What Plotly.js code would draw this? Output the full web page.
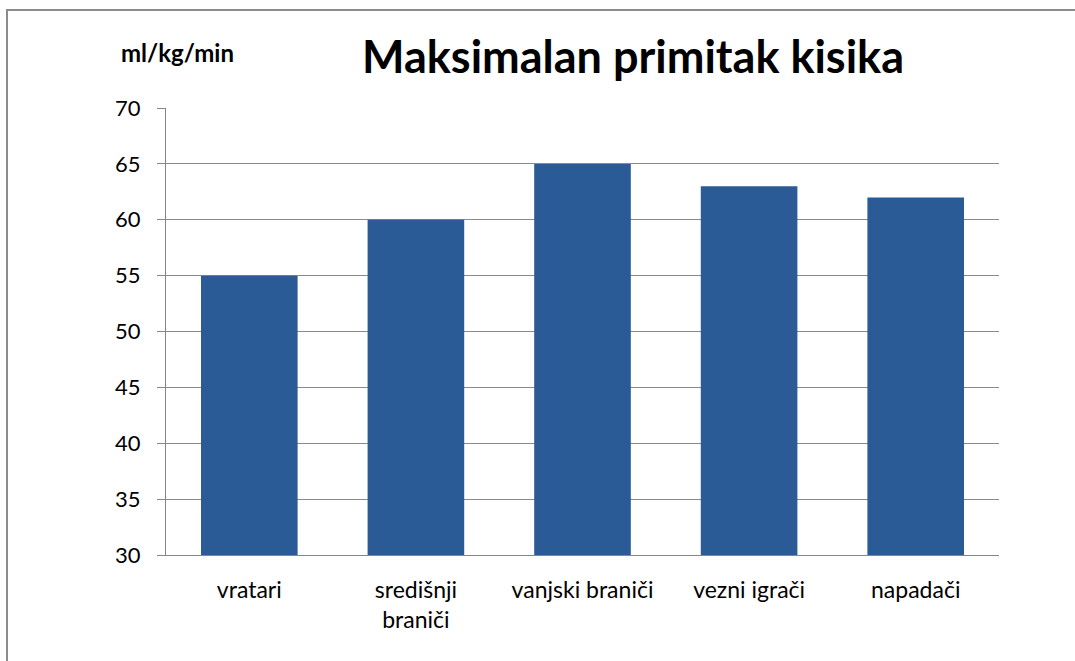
<!DOCTYPE html>
<html>
<head>
<meta charset="utf-8">
<script src="https://cdn.plot.ly/plotly-3.0.1.min.js"></script>
<style>html,body{margin:0;padding:0;background:#fff;}#chart{width:1075px;height:661px;}</style>
</head>
<body>
<div id="chart"></div>
<script>
const categories = ["vratari", "središnji<br>braniči", "vanjski braniči", "vezni igrači", "napadači"];
const values = [55, 60, 65, 63, 62];
const yTicks = [30, 35, 40, 45, 50, 55, 60, 65, 70];
const titleText = "Maksimalan primitak kisika";
const unitText = "ml/kg/min";

const W = 1075, H = 661;
const L = 166, R = 999, T = 108, B = 555;
const px2x = p => (p - L) / (R - L);
const px2y = p => (B - p) / (B - T);

const trace = {
  type: "bar",
  x: categories,
  y: values,
  base: 0,
  marker: { color: "#2b5b96", line: { width: 0 } },
  hoverinfo: "x+y"
};

const layout = {
  width: W, height: H,
  margin: { l: L, r: W - R, t: T, b: H - B, pad: 0 },
  paper_bgcolor: "#ffffff",
  plot_bgcolor: "#ffffff",
  font: { family: "Lato, 'Open Sans', sans-serif", color: "#000", size: 22 },
  bargap: 0.42,
  showlegend: false,
  title: {
    text: "<b>" + titleText + "</b>",
    font: { size: 45, color: "#000", family: "Lato, 'Open Sans', sans-serif" },
    xref: "container", yref: "container",
    x: 633 / W, y: 1 - 57 / H, xanchor: "center", yanchor: "middle"
  },
  xaxis: {
    type: "category",
    showgrid: false,
    showline: true, linecolor: "#868686", linewidth: 1,
    ticks: "", tickfont: { size: 23 },
    ticklabelstandoff: 14
  },
  yaxis: {
    range: [30, 70],
    tickvals: yTicks,
    showgrid: true, gridcolor: "#8a8a8a", gridwidth: 1,
    showline: true, linecolor: "#868686", linewidth: 1,
    ticks: "outside", ticklen: 8, tickcolor: "#868686",
    tickfont: { size: 22 },
    ticklabelstandoff: 12,
    zeroline: false
  },
  annotations: [{
    text: "<b>" + unitText + "</b>",
    xref: "paper", yref: "paper",
    x: px2x(177), y: px2y(52),
    xanchor: "center", yanchor: "middle",
    showarrow: false,
    font: { size: 24, color: "#000" }
  }],
  shapes: [{
    type: "rect", xref: "paper", yref: "paper",
    x0: px2x(7), x1: px2x(1090), y0: px2y(680), y1: px2y(10),
    line: { color: "#8c8c8c", width: 2 },
    fillcolor: "rgba(0,0,0,0)", layer: "below"
  }]
};

Plotly.newPlot("chart", [trace], layout, { displayModeBar: false, staticPlot: true });
</script>
</body>
</html>
